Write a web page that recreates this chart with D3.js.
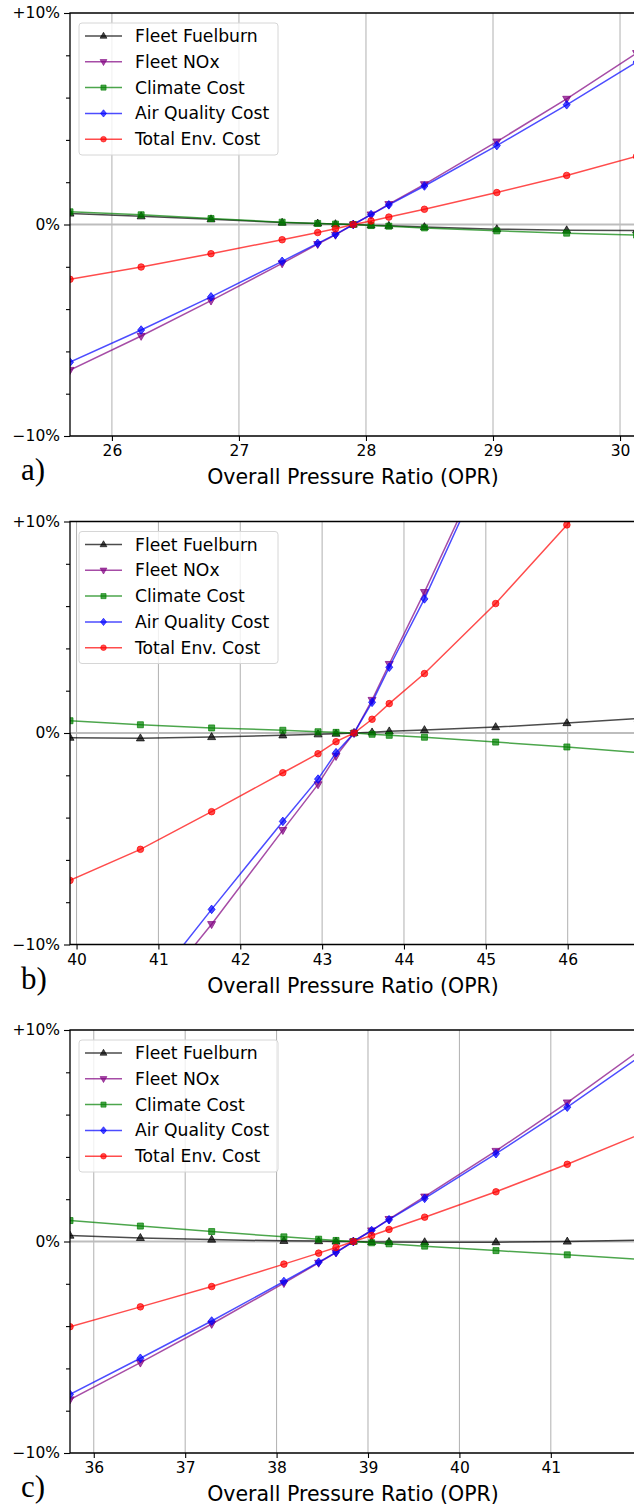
<!DOCTYPE html>
<html>
<head>
<meta charset="utf-8">
<script src="https://cdn.jsdelivr.net/npm/d3@7"></script>
<style>
body { margin: 0; background: #fff; }
svg { display: block; }
</style>
</head>
<body>
<svg width="634" height="1509"></svg>
<script>
var seriesNames = ["Fleet Fuelburn", "Fleet NOx", "Climate Cost", "Air Quality Cost", "Total Env. Cost"];

// panel a)
var opr_a = [25.67, 26.23, 26.78, 27.34, 27.62, 27.76, 27.90, 28.04, 28.18, 28.46, 29.03, 29.58, 30.13];
var fuel_a = [0.52, 0.39, 0.25, 0.09, 0.05, 0.02, 0, -0.04, -0.06, -0.12, -0.22, -0.27, -0.28];
var nox_a = [-6.88, -5.27, -3.60, -1.84, -0.93, -0.49, 0, 0.47, 0.96, 1.90, 3.92, 5.94, 8.10];
var climate_a = [0.60, 0.46, 0.28, 0.11, 0.05, 0.02, 0, -0.05, -0.08, -0.16, -0.30, -0.41, -0.50];
var aq_a = [-6.51, -4.99, -3.42, -1.74, -0.89, -0.47, 0, 0.47, 0.93, 1.82, 3.73, 5.66, 7.68];
var total_a = [-2.59, -2.01, -1.38, -0.72, -0.38, -0.20, 0, 0.17, 0.35, 0.72, 1.51, 2.32, 3.22];
var xlim_a = [25.67, 30.11];
var xticks_a = [26, 27, 28, 29, 30];

// panel b)
var opr_b = [39.92, 40.78, 41.65, 42.52, 42.95, 43.17, 43.39, 43.61, 43.82, 44.25, 45.12, 45.99, 46.86];
var fuel_b = [-0.22, -0.25, -0.19, -0.11, -0.06, -0.03, 0, 0.03, 0.08, 0.14, 0.28, 0.47, 0.68];
var nox_b = [-17.5, -13.2, -9.04, -4.59, -2.43, -1.09, 0, 1.56, 3.26, 6.66, 13.9, 22.5, 31.5];
var climate_b = [0.58, 0.39, 0.24, 0.13, 0.06, 0.03, 0, -0.06, -0.11, -0.20, -0.43, -0.66, -0.93];
var aq_b = [-17.0, -12.6, -8.34, -4.18, -2.18, -0.93, 0, 1.45, 3.11, 6.34, 13.7, 22.0, 30.5];
var total_b = [-6.97, -5.50, -3.72, -1.88, -0.98, -0.41, 0, 0.65, 1.39, 2.81, 6.12, 9.84, 13.8];
var xlim_b = [39.92, 46.81];
var xticks_b = [40, 41, 42, 43, 44, 45, 46];

// panel c)
var opr_c = [35.74, 36.51, 37.29, 38.08, 38.46, 38.65, 38.84, 39.04, 39.23, 39.62, 40.40, 41.18, 41.96];
var fuel_c = [0.28, 0.17, 0.09, 0.03, 0.02, 0, 0, -0.02, -0.02, -0.03, -0.03, 0, 0.06];
var nox_c = [-7.47, -5.73, -3.90, -1.97, -1.01, -0.52, 0, 0.52, 1.06, 2.12, 4.28, 6.57, 9.0];
var climate_c = [0.99, 0.73, 0.47, 0.22, 0.11, 0.05, 0, -0.06, -0.11, -0.22, -0.43, -0.63, -0.84];
var aq_c = [-7.23, -5.52, -3.76, -1.89, -0.98, -0.51, 0, 0.52, 1.03, 2.04, 4.15, 6.35, 8.7];
var total_c = [-4.03, -3.09, -2.13, -1.07, -0.55, -0.28, 0, 0.28, 0.57, 1.15, 2.35, 3.65, 5.04];
var xlim_c = [35.74, 41.91];
var xticks_c = [36, 37, 38, 39, 40, 41];

var yTicks = [-10, -8, -6, -4, -2, 0, 2, 4, 6, 8, 10];
var yLabels = {"-10": "\u221210%", "0": "0%", "10": "+10%"};

var colors = ["#000000", "#800080", "#008000", "#0000ff", "#ff0000"];
var markers = ["tri-up", "tri-down", "square", "diamond", "circle"];

var svg = d3.select("svg"),
    font = "DejaVu Sans, sans-serif",
    left = 70,
    right = 640,
    plotH = 423;

function markerPath(type) {
    if (type === "tri-up") return "M0,-4.4L4,2.6L-4,2.6Z";
    if (type === "tri-down") return "M0,4.4L4,-2.6L-4,-2.6Z";
    if (type === "square") return "M-3,-3H3V3H-3Z";
    if (type === "diamond") return "M0,-4.3L3.5,0L0,4.3L-3.5,0Z";
    return d3.symbol(d3.symbolCircle, 34)();
}

function drawPanel(idx, top, opr, values, xlim, xticks, tag) {
    var x = d3.scaleLinear().domain(xlim).range([left, 634]);
    var y = d3.scaleLinear().domain([-10, 10]).range([top + plotH, top]);
    var g = svg.append("g");

    var clipId = "clip" + idx;
    svg.append("clipPath").attr("id", clipId)
        .append("rect")
        .attr("x", left).attr("y", top)
        .attr("width", right - left).attr("height", plotH);

    // vertical grid
    g.append("g").selectAll("line")
        .data(xticks)
        .enter().append("line")
        .attr("x1", function(d) { return x(d); })
        .attr("x2", function(d) { return x(d); })
        .attr("y1", top).attr("y2", top + plotH)
        .attr("stroke", "#b0b0b0")
        .attr("stroke-width", 1);

    // zero line
    g.append("line")
        .attr("x1", left).attr("x2", right)
        .attr("y1", y(0)).attr("y2", y(0))
        .attr("stroke", "#bdbdbd")
        .attr("stroke-width", 1.8);

    var line = d3.line()
        .x(function(d) { return x(d[0]); })
        .y(function(d) { return y(d[1]); });

    var plot = g.append("g").attr("clip-path", "url(#" + clipId + ")");

    values.forEach(function(vals, s) {
        var pts = opr.map(function(o, i) { return [o, vals[i]]; });
        plot.append("path")
            .datum(pts)
            .attr("d", line)
            .attr("fill", "none")
            .attr("stroke", colors[s])
            .attr("stroke-opacity", 0.7)
            .attr("stroke-width", 1.5);
        plot.append("g").selectAll("path")
            .data(pts)
            .enter().append("path")
            .attr("transform", function(d) { return "translate(" + x(d[0]) + "," + y(d[1]) + ")"; })
            .attr("d", markerPath(markers[s]))
            .attr("fill", colors[s])
            .attr("fill-opacity", 0.7)
            .attr("stroke", colors[s])
            .attr("stroke-opacity", 0.7)
            .attr("stroke-width", 1);
    });

    // axes
    var xAxis = d3.axisBottom(x).tickValues(xticks).tickSize(5).tickPadding(4)
        .tickFormat(d3.format("d"));
    var gx = g.append("g")
        .attr("transform", "translate(0," + (top + plotH) + ")")
        .call(xAxis);
    gx.select(".domain").remove();
    gx.selectAll("line").attr("stroke", "#000").attr("stroke-width", 1.1);
    gx.selectAll("text").attr("font-family", font).attr("font-size", 15.5).attr("fill", "#000");

    var yAxis = d3.axisLeft(y).tickValues(yTicks)
        .tickSize(5).tickPadding(5)
        .tickFormat(function(d) { return yLabels[d] || ""; });
    var gy = g.append("g")
        .attr("transform", "translate(" + left + ",0)")
        .call(yAxis);
    gy.select(".domain").remove();
    gy.selectAll(".tick line").attr("stroke", "#000").attr("stroke-width", 1.1)
        .attr("x2", function(d) { return yLabels[d] ? -6 : -4; });
    gy.selectAll("text").attr("font-family", font).attr("font-size", 15.5).attr("fill", "#000");

    // spines
    g.append("path")
        .attr("d", "M" + right + "," + top + "H" + left + "V" + (top + plotH) + "H" + right)
        .attr("fill", "none")
        .attr("stroke", "#000")
        .attr("stroke-width", 1.3);

    // axis label
    g.append("text")
        .attr("x", 353)
        .attr("y", top + 471)
        .attr("text-anchor", "middle")
        .attr("font-family", font)
        .attr("font-size", 20.5)
        .text("Overall Pressure Ratio (OPR)");

    // panel tag
    g.append("text")
        .attr("x", 21)
        .attr("y", top + 467)
        .attr("font-family", "Liberation Serif, DejaVu Serif, serif")
        .attr("font-size", 31)
        .text(tag);

    // legend
    var lg = g.append("g").attr("transform", "translate(79," + (top + 10) + ")");
    lg.append("rect")
        .attr("width", 199).attr("height", 132)
        .attr("rx", 3)
        .attr("fill", "#fff").attr("fill-opacity", 0.8)
        .attr("stroke", "#d6d6d6").attr("stroke-width", 1);
    var item = lg.selectAll("g.item")
        .data(seriesNames)
        .enter().append("g")
        .attr("class", "item")
        .attr("transform", function(d, i) { return "translate(0," + (13 + i * 25.8) + ")"; });
    item.append("line")
        .attr("x1", 6).attr("x2", 43)
        .attr("stroke", function(d, i) { return colors[i]; })
        .attr("stroke-opacity", 0.7)
        .attr("stroke-width", 1.5);
    item.append("path")
        .attr("transform", "translate(24.5,0) scale(0.85)")
        .attr("d", function(d, i) { return markerPath(markers[i]); })
        .attr("fill", function(d, i) { return colors[i]; })
        .attr("fill-opacity", 0.7)
        .attr("stroke", function(d, i) { return colors[i]; })
        .attr("stroke-opacity", 0.7);
    item.append("text")
        .attr("x", 56).attr("y", 6)
        .attr("font-family", font)
        .attr("font-size", 17.2)
        .text(function(d) { return d; });
}

drawPanel(0, 13, opr_a, [fuel_a, nox_a, climate_a, aq_a, total_a], xlim_a, xticks_a, "a)");
drawPanel(1, 521.5, opr_b, [fuel_b, nox_b, climate_b, aq_b, total_b], xlim_b, xticks_b, "b)");
drawPanel(2, 1030, opr_c, [fuel_c, nox_c, climate_c, aq_c, total_c], xlim_c, xticks_c, "c)");
</script>
</body>
</html>
